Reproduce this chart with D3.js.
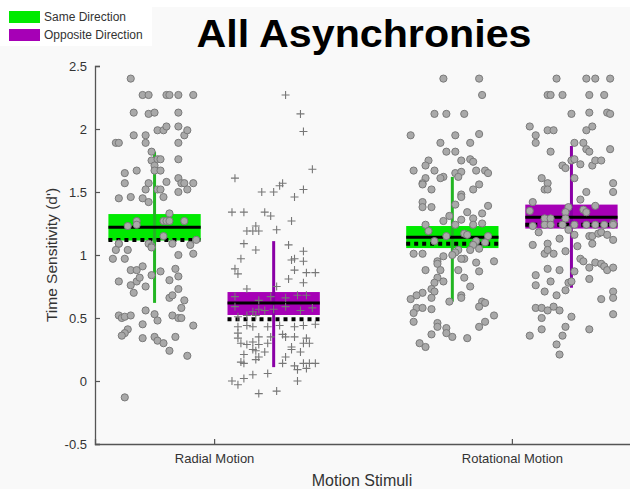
<!DOCTYPE html>
<html>
<head>
<meta charset="utf-8">
<script src="https://cdn.jsdelivr.net/npm/d3@7"></script>
<style>
  body { margin: 0; background: #f9f9f9; }
  svg { display: block; font-family: "Liberation Sans", Arial, sans-serif; }
</style>
</head>
<body>
<svg id="chart" width="630" height="489"></svg>
<script>
// categories and conditions
const categories = ['Radial Motion', 'Rotational Motion'];
const conditions = ['Same Direction', 'Opposite Direction'];
const yTicks = [-0.5, 0, 0.5, 1, 1.5, 2, 2.5];

// box summaries, order: radial-same, radial-opp, rotational-same, rotational-opp
const boxTop = [1.325, 0.706, 1.23, 1.40];
const boxBottom = [1.115, 0.524, 1.055, 1.21];
const meanLine = [1.22, 0.62, 1.14, 1.30];
const dottedLine = [1.12, 0.49, 1.09, 1.24];
const whiskerLow = [0.62, 0.11, 0.63, 0.74];
const whiskerHigh = [1.82, 1.11, 1.62, 1.865];

// individual subjects: [jitter, d']
const radialSame = [
  [-0.08,2.40],[-0.04,2.27],[-0.02,2.27],[0.04,2.27],[0.05,2.27],[0.08,2.27],[0.13,2.27],
  [-0.07,2.13],[-0.02,2.12],[0.00,2.13],[0.08,2.13],[-0.07,1.95],[-0.03,1.95],[0.01,1.99],
  [0.03,1.99],[0.04,2.02],[0.08,2.02],[0.10,1.95],[0.11,1.99],[-0.13,1.89],[-0.12,1.89],
  [-0.03,1.89],[0.08,1.89],[-0.01,1.82],[-0.01,1.75],[0.01,1.76],[0.02,1.76],[0.00,1.71],
  [0.08,1.76],[-0.06,1.67],[0.00,1.67],[0.02,1.67],[-0.10,1.65],[-0.10,1.57],[-0.02,1.57],
  [0.04,1.58],[0.08,1.61],[0.09,1.57],[0.10,1.57],[0.13,1.57],[-0.03,1.52],[0.01,1.52],
  [0.02,1.52],[0.08,1.50],[0.11,1.52],[-0.12,1.45],[-0.08,1.46],[-0.04,1.45],[-0.02,1.42],
  [0.03,1.46],[0.05,1.33],[-0.06,1.27],[0.03,1.27],[0.04,1.27],[0.05,1.27],[0.10,1.27],
  [-0.09,1.23],[-0.06,1.24],[0.03,1.15],[-0.12,1.09],[-0.12,1.09],[-0.02,1.09],[-0.01,1.07],
  [-0.01,1.06],[0.06,1.09],[0.12,1.08],[0.14,1.12],[-0.13,1.04],[-0.09,1.04],[-0.14,0.97],
  [-0.10,0.97],[0.08,1.00],[0.13,1.01],[-0.08,0.88],[-0.06,0.88],[-0.04,0.91],[0.02,0.87],
  [0.07,0.89],[0.08,0.83],[-0.01,0.84],[-0.12,0.79],[-0.06,0.79],[-0.05,0.82],[-0.08,0.76],
  [-0.03,0.75],[0.05,0.80],[-0.07,0.70],[0.08,0.73],[0.05,0.66],[0.06,0.68],[0.10,0.64],
  [0.09,0.58],[-0.12,0.52],[-0.11,0.50],[-0.10,0.51],[-0.08,0.52],[-0.03,0.56],[0.00,0.53],
  [0.01,0.48],[0.06,0.52],[0.08,0.50],[0.09,0.50],[-0.04,0.45],[-0.09,0.41],[-0.10,0.38],
  [-0.11,0.36],[0.13,0.44],[-0.04,0.34],[0.00,0.35],[0.01,0.32],[0.03,0.30],[0.07,0.35],
  [0.05,0.24],[0.11,0.20],[-0.10,-0.13]
];

const radialOpp = [
  [0.04,2.27],[0.09,2.12],[0.10,1.98],[0.13,1.68],[-0.13,1.61],[-0.04,1.50],[0.00,1.50],
  [0.02,1.55],[0.03,1.57],[0.10,1.52],[0.07,1.46],[-0.14,1.34],[-0.10,1.34],[-0.03,1.34],
  [-0.01,1.31],[0.06,1.27],[-0.06,1.23],[-0.09,1.19],[-0.07,1.19],[-0.05,1.19],[0.01,1.20],
  [-0.10,1.09],[-0.06,1.04],[0.05,1.08],[0.10,1.03],[-0.11,0.97],[0.06,0.96],[0.07,0.97],
  [0.10,0.95],[-0.13,0.89],[-0.12,0.85],[0.07,0.88],[0.11,0.86],[0.14,0.86],[0.05,0.81],
  [0.01,0.75],[0.10,0.78],[-0.09,0.73],[-0.13,0.67],[-0.05,0.64],[-0.01,0.67],[0.04,0.66],
  [0.08,0.68],[0.11,0.68],[-0.13,0.59],[-0.05,0.57],[-0.03,0.56],[0.00,0.57],[0.04,0.59],
  [0.09,0.56],[0.13,0.58],[-0.07,0.55],[-0.09,0.52],[-0.06,0.52],[-0.12,0.51],[-0.12,0.43],
  [-0.09,0.44],[-0.07,0.43],[-0.02,0.43],[0.02,0.44],[0.07,0.43],[0.10,0.44],[0.14,0.45],
  [-0.12,0.38],[-0.12,0.34],[-0.05,0.35],[-0.01,0.35],[0.03,0.37],[0.04,0.35],[0.07,0.35],
  [0.11,0.34],[-0.11,0.30],[-0.09,0.29],[-0.07,0.31],[-0.05,0.29],[-0.02,0.30],[-0.07,0.25],
  [-0.06,0.24],[-0.03,0.23],[0.06,0.27],[0.10,0.30],[0.12,0.30],[-0.10,0.21],[-0.11,0.15],
  [-0.05,0.19],[0.04,0.19],[0.06,0.25],[0.09,0.23],[-0.10,0.14],[-0.06,0.17],[0.03,0.14],
  [0.07,0.12],[0.10,0.14],[0.12,0.14],[0.14,0.14],[0.08,0.09],[-0.02,0.06],[-0.14,0.00],
  [-0.10,0.02],[-0.07,0.05],[-0.12,-0.03],[0.08,0.00],[-0.05,-0.10],[0.01,-0.08],[0.11,0.10]
];

const rotSame = [
  [-0.03,2.40],[0.09,2.40],[0.10,2.27],[-0.06,2.12],[-0.02,2.12],[0.04,2.12],[-0.14,1.95],
  [0.01,1.95],[0.09,1.96],[-0.04,1.89],[0.06,1.89],[-0.02,1.82],[0.01,1.82],[0.03,1.75],
  [0.06,1.76],[0.07,1.74],[-0.08,1.75],[-0.09,1.71],[-0.13,1.67],[-0.06,1.67],[0.01,1.65],
  [0.03,1.66],[0.08,1.67],[0.11,1.67],[0.12,1.65],[-0.09,1.61],[-0.03,1.62],[-0.04,1.61],
  [0.02,1.62],[-0.10,1.57],[-0.10,1.56],[0.09,1.56],[-0.07,1.52],[0.07,1.52],[0.03,1.48],
  [0.03,1.46],[0.01,1.40],[-0.10,1.42],[-0.10,1.38],[-0.07,1.38],[0.12,1.39],[-0.01,1.31],
  [-0.03,1.27],[0.03,1.28],[0.05,1.34],[0.07,1.29],[0.10,1.33],[0.01,1.24],[0.07,1.24],
  [-0.09,1.24],[-0.08,1.19],[0.10,1.25],[0.12,1.15],[-0.02,1.15],[0.04,1.17],[0.05,1.16],
  [-0.06,1.11],[0.08,1.11],[0.07,1.08],[0.11,1.10],[-0.13,1.01],[-0.10,1.01],[0.02,1.04],
  [0.01,1.02],[0.06,1.04],[0.09,1.05],[0.00,1.00],[0.04,0.97],[0.03,0.97],[-0.03,0.99],
  [-0.05,0.95],[-0.05,0.93],[0.08,0.94],[0.14,0.95],[-0.09,0.88],[-0.04,0.88],[0.02,0.88],
  [0.09,0.87],[-0.05,0.82],[-0.03,0.79],[0.04,0.82],[-0.06,0.78],[-0.07,0.73],[-0.06,0.71],
  [-0.10,0.70],[-0.12,0.68],[-0.14,0.65],[-0.07,0.66],[-0.01,0.63],[0.03,0.68],[0.03,0.66],
  [0.06,0.75],[0.10,0.63],[0.11,0.62],[0.09,0.59],[-0.12,0.58],[-0.10,0.58],[-0.07,0.57],
  [-0.13,0.54],[-0.13,0.47],[-0.05,0.46],[-0.05,0.43],[-0.07,0.37],[-0.02,0.42],[0.09,0.43],
  [0.11,0.47],[0.14,0.52],[0.00,0.35],[0.05,0.34],[-0.11,0.30],[-0.09,0.27],[-0.02,0.38]
];

const rotOpp = [
  [-0.05,2.40],[0.05,2.40],[0.08,2.40],[0.13,2.40],[-0.08,2.27],[-0.07,2.27],[-0.03,2.27],
  [0.06,2.27],[0.11,2.27],[0.00,2.12],[0.06,2.13],[0.12,2.13],[0.13,2.12],[-0.14,2.02],
  [-0.08,1.99],[-0.06,1.99],[-0.12,1.95],[0.05,1.99],[0.07,2.02],[-0.12,1.89],[0.01,1.89],
  [0.04,1.89],[0.05,1.84],[0.06,1.82],[0.13,1.84],[-0.07,1.82],[0.00,1.75],[0.01,1.76],
  [-0.03,1.71],[-0.02,1.69],[0.03,1.72],[0.07,1.71],[0.08,1.75],[0.10,1.75],[-0.10,1.61],
  [-0.08,1.57],[-0.09,1.52],[-0.08,1.52],[0.01,1.61],[0.05,1.50],[0.14,1.57],[0.14,1.50],
  [0.03,1.44],[-0.01,1.38],[0.08,1.39],[-0.13,1.42],[0.04,1.36],[0.05,1.34],[-0.02,1.34],
  [-0.14,1.35],[-0.09,1.29],[-0.07,1.29],[-0.02,1.29],[-0.13,1.23],[-0.11,1.18],[-0.09,1.24],
  [-0.07,1.24],[-0.03,1.24],[0.01,1.24],[0.05,1.24],[0.08,1.24],[0.11,1.24],[0.14,1.25],
  [0.14,1.24],[-0.01,1.20],[0.01,1.16],[0.06,1.15],[0.07,1.15],[0.09,1.17],[0.10,1.18],
  [0.12,1.16],[0.14,1.12],[-0.13,1.08],[-0.08,1.09],[-0.04,1.13],[0.02,1.07],[0.07,1.09],
  [-0.09,1.01],[-0.08,1.04],[-0.06,1.01],[-0.02,1.03],[0.03,0.97],[0.04,0.95],[0.06,0.90],
  [0.08,0.94],[0.10,0.93],[0.11,0.91],[0.12,0.88],[0.14,0.90],[-0.12,0.84],[-0.08,0.89],
  [-0.04,0.88],[0.01,0.87],[-0.12,0.76],[-0.07,0.79],[-0.01,0.78],[0.00,0.79],[0.06,0.81],
  [-0.09,0.71],[-0.05,0.68],[-0.02,0.72],[0.10,0.65],[0.14,0.71],[0.14,0.66],[-0.12,0.58],
  [-0.10,0.58],[-0.08,0.56],[-0.06,0.59],[-0.04,0.56],[-0.10,0.50],[0.00,0.51],[0.14,0.53],
  [-0.10,0.41],[-0.02,0.43],[-0.03,0.36],[0.06,0.41],[-0.14,0.36],[-0.05,0.29],[-0.04,0.21]
];

const groups = [
  { cat: 0, cond: 0, points: radialSame, shape: 'circle' },
  { cat: 0, cond: 1, points: radialOpp, shape: 'cross' },
  { cat: 1, cond: 0, points: rotSame, shape: 'circle' },
  { cat: 1, cond: 1, points: rotOpp, shape: 'circle' }
];

const boxFill = ['#00ea00', '#a600b6'];
const whiskerColor = ['#22b522', '#8a00a6'];
const condOffset = [-0.2, 0.2];
const boxHalf = 0.155;

const svg = d3.select('#chart');
const width = 630, height = 489;

svg.append('rect').attr('width', width).attr('height', height).attr('fill', '#f9f9f9');
svg.append('rect').attr('width', width).attr('height', 7).attr('fill', '#ffffff');

const x = d3.scaleLinear().domain([0.6, 2.4]).range([95, 631]);
const y = d3.scaleLinear().domain([-0.5, 2.5]).range([444, 66]);

// axes (MATLAB style, ticks pointing inward)
const yAxis = d3.axisLeft(y).tickValues(yTicks).tickSize(-5).tickPadding(8)
    .tickFormat(d => String(d));
const xAxis = d3.axisBottom(x).tickValues([1, 2]).tickSize(-5).tickPadding(10)
    .tickFormat(d => categories[d - 1]);

const yAxisG = svg.append('g').attr('transform', `translate(${x(0.6)},0)`).call(yAxis);
const xAxisG = svg.append('g').attr('transform', `translate(0,${y(-0.5)})`).call(xAxis);

[yAxisG, xAxisG].forEach(g => {
  g.select('.domain').attr('stroke', '#555').attr('stroke-width', 1.3);
  g.selectAll('.tick line').attr('stroke', '#555').attr('stroke-width', 1.2);
  g.selectAll('.tick text').attr('fill', '#333').style('font-size', '13px')
    .style('font-family', '"Liberation Sans", Arial, sans-serif');
});

// boxes, whiskers, mean/median lines
const chart = svg.append('g');
groups.forEach((g, i) => {
  const cx = x(g.cat + 1 + condOffset[g.cond]);
  const x0 = x(g.cat + 1 + condOffset[g.cond] - boxHalf);
  const x1 = x(g.cat + 1 + condOffset[g.cond] + boxHalf);

  chart.append('rect')
      .attr('x', x0).attr('width', x1 - x0)
      .attr('y', y(boxTop[i])).attr('height', y(boxBottom[i]) - y(boxTop[i]))
      .attr('fill', boxFill[g.cond]);

  chart.append('line')
      .attr('x1', cx).attr('x2', cx)
      .attr('y1', y(whiskerLow[i])).attr('y2', y(whiskerHigh[i]))
      .attr('stroke', whiskerColor[g.cond]).attr('stroke-width', 3);

  chart.append('line')
      .attr('x1', x0).attr('x2', x1)
      .attr('y1', y(meanLine[i])).attr('y2', y(meanLine[i]))
      .attr('stroke', '#000').attr('stroke-width', 3);

  chart.append('line')
      .attr('x1', x0).attr('x2', x1)
      .attr('y1', y(dottedLine[i])).attr('y2', y(dottedLine[i]))
      .attr('stroke', '#000').attr('stroke-width', 4)
      .attr('stroke-dasharray', '4,4');
});

// subject points on top
groups.forEach(g => {
  const base = g.cat + 1 + condOffset[g.cond];
  const sel = chart.append('g').selectAll('.pt').data(g.points);
  if (g.shape === 'circle') {
    sel.join('circle')
        .attr('class', 'pt')
        .attr('cx', d => x(base + d[0]))
        .attr('cy', d => y(d[1]))
        .attr('r', 3.6)
        .attr('fill', '#a9a9a9')
        .attr('stroke', '#7a7a7a')
        .attr('stroke-width', 1);
  } else {
    sel.join('path')
        .attr('class', 'pt')
        .attr('d', d => {
          const px = x(base + d[0]), py = y(d[1]);
          return `M${px - 4},${py}H${px + 4}M${px},${py - 4}V${py + 4}`;
        })
        .attr('stroke', '#777')
        .attr('stroke-width', 1.1)
        .attr('fill', 'none');
  }
});

// title
svg.append('text')
    .attr('x', 364).attr('y', 47)
    .attr('text-anchor', 'middle')
    .style('font-size', '38px').style('font-weight', 'bold')
    .attr('textLength', 335).attr('lengthAdjust', 'spacingAndGlyphs')
    .attr('fill', '#000')
    .text('All Asynchronies');

// axis titles
svg.append('text')
    .attr('x', 362).attr('y', 486)
    .attr('text-anchor', 'middle')
    .style('font-size', '16px').attr('fill', '#333')
    .text('Motion Stimuli');

svg.append('text')
    .attr('transform', `translate(57,${(y(2.5) + y(-0.5)) / 2}) rotate(-90)`)
    .attr('text-anchor', 'middle')
    .style('font-size', '15.5px').attr('fill', '#333')
    .text("Time Sensitivity (d')");

// legend
const legend = svg.append('g');
legend.append('rect').attr('x', 0).attr('y', 0).attr('width', 152).attr('height', 46).attr('fill', '#ffffff');
conditions.forEach((c, i) => {
  legend.append('rect')
      .attr('x', 9).attr('y', 11 + i * 18)
      .attr('width', 31).attr('height', 12)
      .attr('fill', boxFill[i]);
  legend.append('text')
      .attr('x', 44).attr('y', 21 + i * 18)
      .style('font-size', '12px').attr('fill', '#333')
      .text(c);
});
</script>
</body>
</html>
